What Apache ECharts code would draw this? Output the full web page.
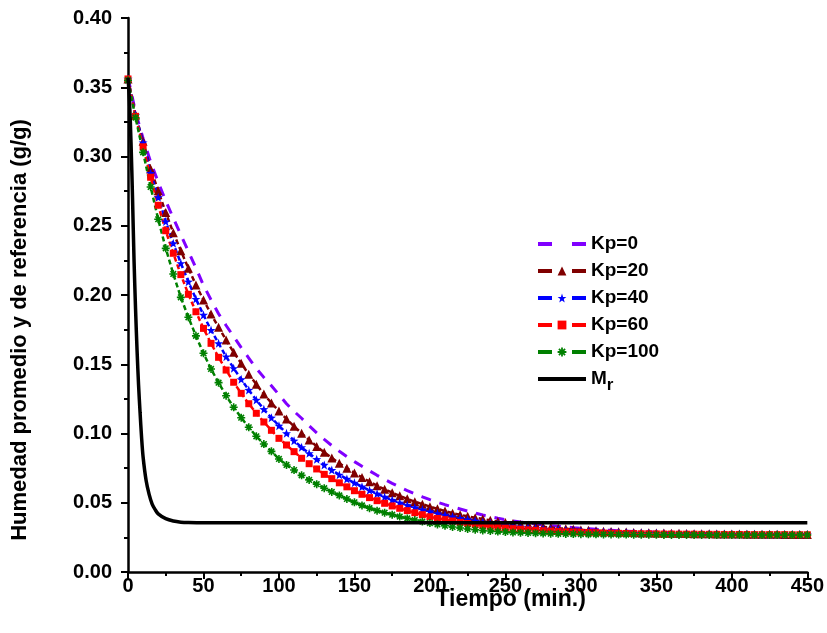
<!DOCTYPE html>
<html>
<head>
<meta charset="utf-8">
<script src="https://cdn.jsdelivr.net/npm/echarts@6/dist/echarts.min.js"></script>
<style>
html,body{margin:0;padding:0;background:#fff;}
#chart{width:827px;height:633px;}
</style>
</head>
<body>
<div id="chart"></div>
<script>
const timeMin = [0,5,10,15,20,25,30,35,40,45,50,55,60,65,70,75,80,85,90,95,100,105,110,115,120,125,130,135,140,145,150,155,160,165,170,175,180,185,190,195,200,205,210,215,220,225,230,235,240,245,250,255,260,265,270,275,280,285,290,295,300,305,310,315,320,325,330,335,340,345,350,355,360,365,370,375,380,385,390,395,400,405,410,415,420,425,430,435,440,445,450];

const kp0 = [0.357,0.332,0.313,0.296,0.2815,0.268,0.2555,0.2435,0.2315,0.2195,0.207,0.1965,0.1865,0.178,0.170,0.162,0.1545,0.147,0.1405,0.1345,0.128,0.1215,0.116,0.111,0.1055,0.1005,0.0957,0.0913,0.0872,0.0833,0.0797,0.0763,0.0730,0.0698,0.0668,0.0640,0.0613,0.0588,0.0565,0.0543,0.0522,0.0503,0.0486,0.0470,0.0455,0.0440,0.0425,0.0411,0.0399,0.0388,0.0378,0.0369,0.0361,0.0354,0.0347,0.0341,0.0335,0.0330,0.0325,0.0320,0.0316,0.0312,0.0308,0.0304,0.0301,0.0298,0.0295,0.0293,0.0290,0.0288,0.0286,0.0285,0.0283,0.0282,0.0281,0.0280,0.0279,0.0278,0.0277,0.0276,0.0275,0.0275,0.0274,0.0274,0.0273,0.0273,0.0272,0.0272,0.0272,0.0271,0.0271];

const kp20 = [0.356,0.330,0.311,0.291,0.2753,0.2595,0.2450,0.2320,0.2193,0.2072,0.1964,0.1863,0.1767,0.1675,0.1586,0.1507,0.1427,0.1355,0.1285,0.1220,0.1162,0.1105,0.1052,0.1001,0.0953,0.0907,0.0864,0.0823,0.0785,0.0749,0.0715,0.0683,0.0652,0.0623,0.0597,0.0573,0.0550,0.0528,0.0508,0.0490,0.0472,0.0456,0.0440,0.0425,0.0413,0.0402,0.0392,0.0382,0.0373,0.0365,0.0357,0.0350,0.0343,0.0337,0.0331,0.0326,0.0321,0.0316,0.0312,0.0308,0.0304,0.0301,0.0298,0.0295,0.0292,0.0290,0.0288,0.0286,0.0284,0.0283,0.0282,0.0281,0.0280,0.0279,0.0278,0.0277,0.0276,0.0276,0.0275,0.0275,0.0274,0.0274,0.0273,0.0273,0.0272,0.0272,0.0272,0.0271,0.0271,0.0271,0.0270];

const kp40 = [0.356,0.330,0.310,0.288,0.2705,0.2530,0.2373,0.2229,0.2096,0.1971,0.1856,0.1747,0.1651,0.1555,0.1471,0.1391,0.1314,0.1242,0.1175,0.1114,0.1056,0.1001,0.0948,0.0900,0.0857,0.0814,0.0773,0.0736,0.0702,0.0672,0.0644,0.0616,0.0590,0.0565,0.0542,0.0520,0.0500,0.0482,0.0466,0.0451,0.0437,0.0424,0.0412,0.0400,0.0389,0.0379,0.0370,0.0361,0.0353,0.0346,0.0339,0.0333,0.0327,0.0322,0.0317,0.0313,0.0309,0.0305,0.0302,0.0299,0.0296,0.0293,0.0291,0.0289,0.0287,0.0285,0.0284,0.0282,0.0281,0.0280,0.0279,0.0278,0.0277,0.0276,0.0276,0.0275,0.0275,0.0274,0.0274,0.0273,0.0273,0.0272,0.0272,0.0272,0.0271,0.0271,0.0271,0.0270,0.0270,0.0270,0.0270];

const kp60 = [0.356,0.329,0.307,0.285,0.2648,0.2464,0.2301,0.2147,0.2005,0.1879,0.1759,0.1651,0.1550,0.1458,0.1370,0.1290,0.1215,0.1146,0.1083,0.1023,0.0965,0.0917,0.0869,0.0821,0.0782,0.0744,0.0705,0.0674,0.0644,0.0615,0.0587,0.0561,0.0537,0.0515,0.0496,0.0477,0.0460,0.0443,0.0428,0.0414,0.0399,0.0387,0.0378,0.0368,0.0358,0.0350,0.0342,0.0335,0.0329,0.0323,0.0318,0.0313,0.0309,0.0305,0.0301,0.0298,0.0295,0.0292,0.0290,0.0288,0.0286,0.0284,0.0283,0.0281,0.0280,0.0279,0.0278,0.0277,0.0276,0.0276,0.0275,0.0274,0.0274,0.0273,0.0273,0.0273,0.0272,0.0272,0.0272,0.0271,0.0271,0.0271,0.0271,0.0270,0.0270,0.0270,0.0270,0.0270,0.0269,0.0269,0.0269];

const kp100 = [0.355,0.328,0.303,0.278,0.2547,0.2337,0.2152,0.1983,0.1839,0.1705,0.1579,0.1466,0.1367,0.1273,0.1189,0.1114,0.1045,0.0980,0.0924,0.0871,0.0816,0.0773,0.0736,0.0698,0.0665,0.0634,0.0605,0.0578,0.0553,0.0527,0.0503,0.0481,0.0461,0.0443,0.0428,0.0414,0.0400,0.0387,0.0375,0.0364,0.0353,0.0343,0.0334,0.0325,0.0318,0.0311,0.0305,0.0300,0.0296,0.0292,0.0289,0.0286,0.0284,0.0282,0.0280,0.0278,0.0277,0.0276,0.0275,0.0274,0.0273,0.0272,0.0272,0.0271,0.0271,0.0270,0.0270,0.0269,0.0269,0.0269,0.0269,0.0268,0.0268,0.0268,0.0268,0.0268,0.0268,0.0268,0.0267,0.0267,0.0267,0.0267,0.0267,0.0267,0.0267,0.0267,0.0267,0.0267,0.0267,0.0267,0.0267];

const mrTime = [0,1,2,3,4,5,6,7,8,9,10,12,14,16,18,20,25,30,35,40,50,100,150,200,250,300,350,400,450];
const mrValues = [0.357,0.340,0.310,0.270,0.225,0.190,0.160,0.135,0.115,0.097,0.083,0.066,0.056,0.049,0.045,0.042,0.0385,0.0368,0.0360,0.0357,0.0355,0.0355,0.0355,0.0355,0.0355,0.0355,0.0355,0.0355,0.0355];

const seriesNames = ['Kp=0','Kp=20','Kp=40','Kp=60','Kp=100','Mr'];
const xTicks = [0,450,50];
const yTicks = [0,0.40,0.05];

const starPath = 'path://M0,-5L1.18,-1.62L4.76,-1.55L1.9,0.62L2.94,4.05L0,2L-2.94,4.05L-1.9,0.62L-4.76,-1.55L-1.18,-1.62Z';
const asteriskPath = 'path://M-1,-5L1,-5L1,5L-1,5Z M-5,-1L5,-1L5,1L-5,1Z M-2.8,-4.2L4.2,2.8L2.8,4.2L-4.2,-2.8Z M-2.8,4.2L-4.2,2.8L2.8,-4.2L4.2,-2.8Z';

function pairs(xs, ys){ return xs.map((t,i)=>[t, ys[i]]); }

const font = '"Liberation Sans", Arial, sans-serif';

function mk(name, vals, color, symbol, size, dash, width){
  return {
    name: name, type: 'line', data: pairs(timeMin, vals),
    symbol: symbol, symbolSize: size, showSymbol: symbol !== 'none',
    color: color,
    itemStyle: {color: color},
    lineStyle: {color: color, width: width, type: dash},
    animation: false, z: 2
  };
}

const legendDash = [14,20];
const hidden = {color:'rgba(0,0,0,0)', borderWidth:0};

const chart = echarts.init(document.getElementById('chart'), null, {renderer:'canvas'});
chart.setOption({
  backgroundColor: '#ffffff',
  animation: false,
  grid: {left:128, right:19, top:18, bottom:61, containLabel:false},
  xAxis: {
    type:'value', min:xTicks[0], max:xTicks[1], interval:xTicks[2],
    name:'Tiempo (min.)', nameLocation:'middle', nameGap:16, nameMoveOverlap:false,
    nameTextStyle:{fontFamily:font, fontWeight:'bold', fontSize:23, color:'#000', padding:[0,0,0,86]},
    axisLine:{show:true, lineStyle:{color:'#000', width:2.5}},
    axisTick:{show:true, inside:false, length:7, lineStyle:{width:2, color:'#000'}},
    minorTick:{show:true, splitNumber:2, length:4, lineStyle:{width:2, color:'#000'}},
    axisLabel:{fontFamily:font, fontWeight:'bold', fontSize:20, color:'#000', margin:4},
    splitLine:{show:false}
  },
  yAxis: {
    type:'value', min:yTicks[0], max:yTicks[1], interval:yTicks[2],
    name:'Humedad promedio y de referencia (g/g)', nameLocation:'middle', nameGap:97, nameMoveOverlap:false,
    nameTextStyle:{fontFamily:font, fontWeight:'bold', fontSize:22, color:'#000', padding:[0,70,0,0]},
    axisLine:{show:true, lineStyle:{color:'#000', width:2.5}},
    axisTick:{show:true, inside:false, length:7, lineStyle:{width:2, color:'#000'}},
    minorTick:{show:true, splitNumber:2, length:4, lineStyle:{width:2, color:'#000'}},
    axisLabel:{fontFamily:font, fontWeight:'bold', fontSize:20, color:'#000', margin:16,
      formatter: v => v.toFixed(2)},
    splitLine:{show:false}
  },
  legend: {
    left:531, top:229, orient:'vertical',
    itemWidth:48, itemHeight:11, itemGap:7,
    data: [
      {name: seriesNames[0], itemStyle: hidden, lineStyle:{type:legendDash, width:4}},
      {name: seriesNames[1], lineStyle:{type:legendDash, width:4}},
      {name: seriesNames[2], lineStyle:{type:legendDash, width:4}},
      {name: seriesNames[3], lineStyle:{type:legendDash, width:4}},
      {name: seriesNames[4], lineStyle:{type:legendDash, width:4}},
      {name: seriesNames[5], itemStyle: hidden, lineStyle:{type:'solid', width:4}}
    ],
    textStyle:{fontFamily:font, fontWeight:'bold', fontSize:19, color:'#000', lineHeight:20,
      rich:{sub:{fontFamily:font, fontWeight:'bold', fontSize:17, color:'#000', padding:[12,0,0,0]}}},
    formatter: n => n === 'Mr' ? 'M{sub|r}' : n
  },
  series: [
    mk(seriesNames[0], kp0, '#8000ff', 'none', 0, [10,9], 3),
    mk(seriesNames[1], kp20, '#800000', 'triangle', 9, [5,3], 2.5),
    mk(seriesNames[2], kp40, '#0000ff', starPath, 9, [5,3], 2.5),
    mk(seriesNames[3], kp60, '#ff0000', 'rect', 7, [5,3], 2.5),
    mk(seriesNames[4], kp100, '#008000', asteriskPath, 8, [5,3], 2.5),
    {
      name: seriesNames[5], type:'line', data: pairs(mrTime, mrValues),
      symbol:'none', showSymbol:false, smooth:0.3, color:'#000',
      lineStyle:{color:'#000', width:3.5, type:'solid'}, animation:false, z:3
    }
  ]
});
</script>
</body>
</html>
